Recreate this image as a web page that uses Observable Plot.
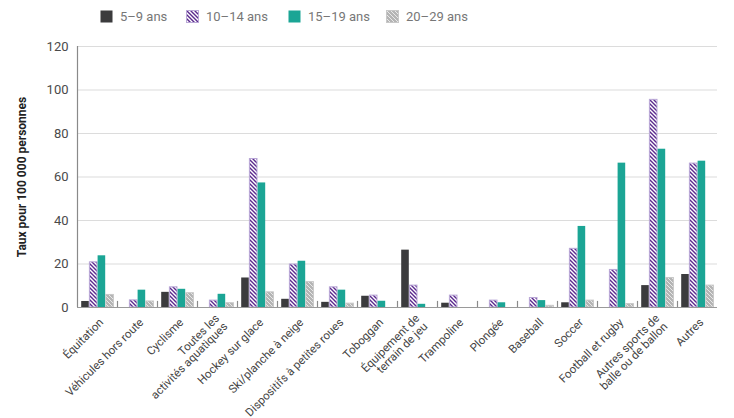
<!DOCTYPE html>
<html>
<head>
<meta charset="utf-8">
<script src="https://cdn.jsdelivr.net/npm/d3@7"></script>
<script src="https://cdn.jsdelivr.net/npm/@observablehq/plot@0.6"></script>
<style>
  html, body { margin: 0; padding: 0; background: #fff; }
  body { width: 734px; font-family: Roboto, "Noto Sans", sans-serif; }
  #legend { position: relative; height: 30px; }
  #legend .item { position: absolute; top: 9px; display: flex; align-items: center; font-size: 13px; color: #777; }
  #legend svg { display: block; margin-right: 7px; }
</style>
</head>
<body>
<svg width="0" height="0" style="position:absolute">
  <defs>
    <pattern id="hatch-purple" patternUnits="userSpaceOnUse" width="4" height="4">
      <rect width="4" height="4" fill="#fff"></rect>
      <path d="M-1,-1 L5,5 M-1,3 L1,5 M3,-1 L5,1" stroke="#5b2a8e" stroke-width="1.4"></path>
    </pattern>
    <pattern id="hatch-grey" patternUnits="userSpaceOnUse" width="4" height="4">
      <rect width="4" height="4" fill="#b4b4b4"></rect>
      <path d="M-1,-1 L5,5 M-1,3 L1,5 M3,-1 L5,1" stroke="#e8e8e8" stroke-width="1"></path>
    </pattern>
  </defs>
</svg>
<div id="legend"></div>
<div id="chart"></div>
<script>
// Injury rates per 100 000 people, by activity and age group
const categories = [
  "Équitation",
  "Véhicules hors route",
  "Cyclisme",
  "Toutes les\nactivités aquatiques",
  "Hockey sur glace",
  "Ski/planche à neige",
  "Dispositifs à petites roues",
  "Toboggan",
  "Équipement de\nterrain de jeu",
  "Trampoline",
  "Plongée",
  "Baseball",
  "Soccer",
  "Football et rugby",
  "Autres sports de\nballe ou de ballon",
  "Autres"
];

const seriesNames = ["5–9 ans", "10–14 ans", "15–19 ans", "20–29 ans"];

const age5to9   = [3, 0, 7.2, 0, 13.8, 4, 2.6, 5.4, 26.6, 2.2, 0, 0, 2.4, 0, 10.3, 15.4];
const age10to14 = [21, 3.5, 9.5, 3.4, 68.5, 20, 9.5, 5.7, 10.3, 5.7, 3.4, 4.6, 27.2, 17.5, 95.7, 66.4];
const age15to19 = [24, 8.2, 8.6, 6.3, 57.5, 21.5, 8.2, 3.1, 1.7, 0, 2.4, 3.4, 37.5, 66.6, 73, 67.5];
const age20to29 = [6, 3, 6.8, 2.2, 7.2, 11.9, 2, 0, 0, 0, 0, 1, 3.4, 1.8, 13.8, 10.3];

const yTicks = [0, 20, 40, 60, 80, 100, 120];

const seriesValues = [age5to9, age10to14, age15to19, age20to29];
const seriesFill = ["#3b3b3d", "url(#hatch-purple)", "#1ba595", "url(#hatch-grey)"];
const seriesStroke = ["none", "#b9a7d6", "none", "#c8c8c8"];

// Legend
const legend = document.getElementById("legend");
const legendLeft = [100, 186, 288, 386];
seriesNames.forEach((name, k) => {
  const item = document.createElement("div");
  item.className = "item";
  item.style.left = legendLeft[k] + "px";
  item.innerHTML = `<svg width="13" height="13"><rect x="0.5" y="0.5" width="12" height="12" fill="${seriesFill[k]}" stroke="${seriesStroke[k]}"></rect></svg><span>${name}</span>`;
  legend.appendChild(item);
});

// Bars are laid out inside each unit-wide category slot
const groupStart = 0.105, barStep = 0.205, barWidth = 0.19;

const barMarks = seriesValues.map((values, k) => {
  const rows = values
    .map((v, i) => ({i, v}))
    .filter(d => d.v > 0);
  return Plot.rectY(rows, {
    x1: d => d.i + groupStart + k * barStep,
    x2: d => d.i + groupStart + k * barStep + barWidth,
    y1: 0,
    y2: "v",
    fill: seriesFill[k],
    stroke: seriesStroke[k],
    strokeWidth: 1,
    insetTop: 0.5
  });
});

const chart = Plot.plot({
  width: 734,
  height: 388,
  marginTop: 16,
  marginLeft: 77,
  marginRight: 17,
  marginBottom: 111,
  style: {fontFamily: "Roboto, 'Noto Sans', sans-serif", color: "#444", background: "#fff"},
  x: {domain: [0, categories.length], axis: null},
  y: {domain: [0, 120], axis: null},
  marks: [
    Plot.gridY(yTicks.slice(1), {stroke: "#dcdcdc", strokeOpacity: 1, strokeWidth: 1.2}),
    ...barMarks,
    Plot.ruleY([0], {stroke: "#9a9a9a", strokeWidth: 1.2}),
    Plot.ruleX([0], {y1: 0, y2: 120, stroke: "#8a8a8a", strokeWidth: 1.2}),
    Plot.ruleX(d3.range(1, categories.length), {y1: 0, y2: 2.8, stroke: "#8a8a8a", strokeWidth: 1.2}),
    Plot.axisY(yTicks, {tickSize: 0, tickPadding: 9, fontSize: 13, label: null, fill: "#4a4a4a"}),
    Plot.axisX(d3.range(categories.length).map(i => i + 0.5), {
      tickFormat: t => categories[Math.floor(t)],
      tickRotate: -45,
      tickSize: 0,
      tickPadding: 13,
      dx: 4,
      fontSize: 11.5,
      fill: "#444",
      label: null
    }),
    Plot.text(["Taux pour 100 000 personnes"], {
      frameAnchor: "left",
      textAnchor: "middle",
      rotate: -90,
      dx: -55,
      fontSize: 12,
      fontWeight: "bold",
      fill: "#222"
    })
  ]
});

document.getElementById("chart").appendChild(chart);
</script>
</body>
</html>
